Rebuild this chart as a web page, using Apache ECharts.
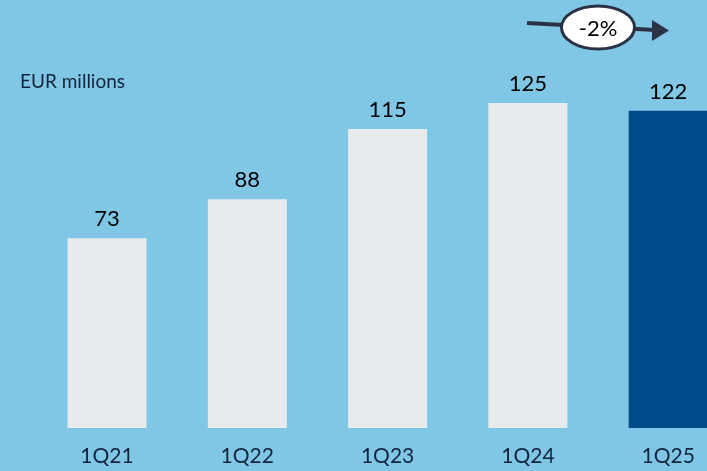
<!DOCTYPE html>
<html>
<head>
<meta charset="utf-8">
<script src="https://cdn.jsdelivr.net/npm/echarts@6/dist/echarts.min.js"></script>
<style>
  html, body { margin: 0; padding: 0; background: #7fc7e5; }
  #chart { width: 707px; height: 471px; }
</style>
</head>
<body>
<div id="chart"></div>
<script>
// Quarterly values, EUR millions
const quarters = ['1Q21', '1Q22', '1Q23', '1Q24', '1Q25'];
const values = [73, 88, 115, 125, 122];
const unitLabel = 'EUR millions';
const changeLabel = '-2%';

const lightBar = '#e7ebee';
const darkBar = '#014a8c';
const textDark = '#14233d';
const fontFamily = 'Lato, "Open Sans", sans-serif';

const chart = echarts.init(document.getElementById('chart'), null, { renderer: 'canvas' });

const barData = values.map((v, i) => ({
  value: v,
  itemStyle: { color: i === values.length - 1 ? darkBar : lightBar }
}));

chart.setOption({
  backgroundColor: '#7fc7e5',
  animation: false,
  // the plot runs past the right edge so the last bar is cut off
  grid: {
    left: 36.85, width: 701.5, top: 38, height: 390,
    containLabel: false,
    outerBoundsMode: 'none'
  },
  xAxis: {
    type: 'category',
    data: quarters,
    axisLine: { show: false },
    axisTick: { show: false },
    axisLabel: {
      margin: 18,
      fontSize: 21,
      lineHeight: 21,
      color: textDark,
      fontFamily: fontFamily,
      hideOverlap: false
    }
  },
  yAxis: {
    type: 'value',
    min: 0,
    max: 150,
    show: false,
    splitLine: { show: false }
  },
  series: [{
    type: 'bar',
    data: barData,
    barWidth: 79,
    label: {
      show: true,
      position: 'top',
      distance: 8,
      fontSize: 22,
      lineHeight: 22,
      color: '#000000',
      fontFamily: fontFamily
    }
  }],
  graphic: [
    {
      type: 'text',
      left: 20,
      top: 72,
      style: { text: unitLabel, fontSize: 19, fill: textDark, fontFamily: fontFamily }
    },
    // trend arrow with the change bubble
    {
      type: 'polyline',
      shape: { points: [[527, 23], [655, 30]] },
      style: { stroke: '#2b3245', lineWidth: 4 },
      z: 10
    },
    {
      type: 'polygon',
      shape: { points: [[652, 20], [669, 30.5], [652, 41]] },
      style: { fill: '#2b3245' },
      z: 10
    },
    {
      type: 'ellipse',
      shape: { cx: 598, cy: 27.5, rx: 36.5, ry: 21.5 },
      style: { fill: '#ffffff', stroke: '#2b3245', lineWidth: 3 },
      z: 11
    },
    {
      type: 'text',
      x: 598,
      y: 29,
      style: {
        text: changeLabel,
        fontSize: 22,
        fill: '#000000',
        fontFamily: fontFamily,
        align: 'center',
        verticalAlign: 'middle'
      },
      z: 12
    }
  ]
});
</script>
</body>
</html>
